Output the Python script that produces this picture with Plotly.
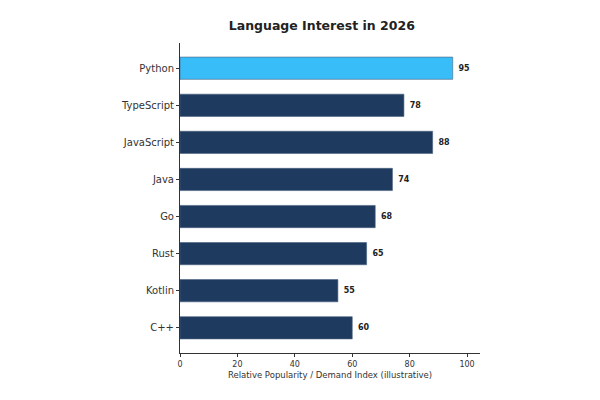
import plotly.graph_objects as go

# data
languages = ["Python", "TypeScript", "JavaScript", "Java", "Go", "Rust", "Kotlin", "C++"]
scores = [95, 78, 88, 74, 68, 65, 55, 60]
highlight = "Python"

bar_colors = ["#38bdf8" if lang == highlight else "#1e3a5f" for lang in languages]

fig = go.Figure(go.Bar(
    x=scores,
    y=languages,
    orientation="h",
    width=0.6,
    marker=dict(color=bar_colors, line=dict(color="#4a6280", width=0.6)),
    text=["\u00a0" + str(s) for s in scores],
    textposition="outside",
    textfont=dict(family="DejaVu Sans", size=8, color="#222222", weight="bold"),
    cliponaxis=False,
))

# page body has an 8px margin, so offsets are compensated here
fig.update_layout(
    width=600, height=400,
    margin=dict(l=172, r=128, t=35, b=55),
    plot_bgcolor="white", paper_bgcolor="white",
    font=dict(family="DejaVu Sans", color="#333333"),
    title=dict(text="<b>Language Interest in 2026</b>", x=0.523, xanchor="center",
               y=0.957, yanchor="middle", font=dict(size=12.5, color="#222222")),
    showlegend=False,
)
fig.update_xaxes(
    range=[0, 104.5], tickvals=[0, 20, 40, 60, 80, 100],
    showgrid=False, zeroline=False,
    showline=True, linecolor="#333333", linewidth=1,
    ticks="outside", ticklen=3, tickcolor="#333333",
    tickfont=dict(size=8, color="#333333"),
    title=dict(text="Relative Popularity / Demand Index (illustrative)",
               font=dict(size=8.5, color="#333333"), standoff=4),
)
fig.update_yaxes(
    categoryorder="array", categoryarray=languages[::-1],
    range=[-0.68, 7.68],
    showgrid=False, zeroline=False,
    showline=True, linecolor="#333333", linewidth=1,
    ticks="outside", ticklen=3, tickcolor="#333333",
    tickfont=dict(size=10, color="#333333"),
)

fig.write_html("out.html")
